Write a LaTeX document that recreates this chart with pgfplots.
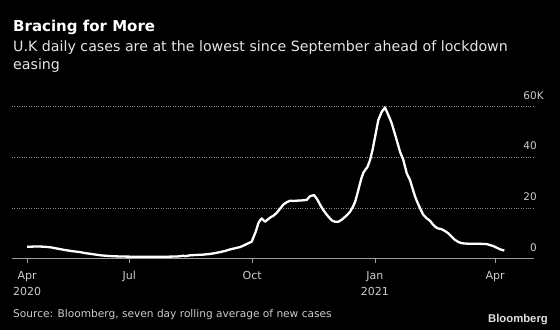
\documentclass[border=0pt]{standalone}
\usepackage{pgfplots}
\pgfplotsset{compat=1.18}
\usepackage{fontspec}
\setmainfont{DejaVu Sans}
\newfontfamily\logofont{Liberation Sans}
\definecolor{tickgray}{gray}{0.80}
\definecolor{subgray}{gray}{0.90}
\definecolor{axgray}{gray}{0.62}
\definecolor{gridgray}{gray}{0.55}
\begin{document}
\begin{tikzpicture}[x=1pt,y=1pt]
\fill[black] (0,0) rectangle (560,330);
\path[use as bounding box] (0,0) rectangle (560,330);
\node[anchor=base west, inner sep=0, text=white, font=\bfseries\fontsize{15}{18}\selectfont] at (13,298.3) {Bracing for More};
\node[anchor=base west, inner sep=0, text=subgray, font=\fontsize{14.2}{17}\selectfont] at (13,278.3) {U.K daily cases are at the lowest since September ahead of lockdown};
\node[anchor=base west, inner sep=0, text=subgray, font=\fontsize{14.2}{17}\selectfont] at (13,260.7) {easing};
\begin{axis}[
  at={(12pt,71.3pt)}, anchor=south west,
  scale only axis, width=521pt, height=152pt,
  xmin=3.1, xmax=393.4, ymin=0, ymax=60,
  axis x line=bottom, axis y line=right,
  axis line style={-},
  x axis line style={draw=axgray, line width=0.8pt},
  y axis line style={draw=none},
  xtick={14.5,91,183,275,365},
  xticklabels={Apr\\2020, Jul, Oct, Jan\\2021, Apr},
  ytick={0,20,40,60},
  yticklabels={0,20,40,60\rlap{K}},
  tick align=outside,
  major tick length=4pt,
  xtick style={draw=axgray, line width=0.8pt},
  ytick style={draw=none},
  xticklabel style={align=center, yshift=-5pt, text=tickgray, font=\fontsize{11}{16.7}\selectfont},
  yticklabel style={anchor=base east, inner sep=0pt, xshift=0pt, yshift=7.5pt, text=tickgray, font=\fontsize{10.5}{12}\selectfont},
  /pgf/number format/assume math mode=true,
  ymajorgrids,
  major grid style={draw=gridgray, line width=0.8pt, dash pattern=on 0.8pt off 1.6pt},
  clip=false,
]
\addplot[white, line width=2.3pt, line join=round] coordinates {
(14.4,4.7)(20,4.8)(24,4.8)(28,4.7)(32,4.5)(37,4.0)(43,3.4)(48,3.0)(54,2.6)(58,2.2)
(62,1.9)(66,1.6)(70,1.3)(75,1.1)(80,0.95)(86,0.85)(92,0.8)(100,0.75)(107,0.75)(114,0.75)
(120,0.8)(125,0.85)(129,0.95)(131,1.2)(133,1.0)(136,1.3)(140,1.45)(146,1.6)(151,1.85)(155,2.2)
(159,2.6)(163,3.1)(166,3.6)(170,4.1)(174,4.6)(177,5.3)(179,5.8)(181,6.3)(182.7,6.7)(184,8.5)
(185.2,10.0)(186.5,12.0)(187.6,14.0)(189,15.2)(190.2,15.9)(192.7,14.6)(194.5,15.4)(196.4,16.2)(199,17.0)(201.4,18.1)
(204,19.8)(206.4,21.4)(209,22.3)(211.4,22.9)(214,22.8)(216.4,22.9)(220,23.0)(223.9,23.2)(226.4,24.7)(229.4,25.1)
(231.8,23.4)(234,21.2)(236.3,19.2)(239,17.3)(241.3,15.9)(243,15.0)(245.1,14.6)(247.6,14.6)(249.5,15.2)(251.3,15.9)
(254,17.2)(256.3,18.5)(258.5,20.5)(260.2,22.5)(262,26.0)(263.8,29.7)(265,32.0)(266.3,33.9)(268,35.3)(269.3,36.1)
(271.3,38.9)(273,42.5)(275.1,48.1)(277.5,54.7)(280.1,58.0)(282.5,59.7)(284.3,57.6)(286,55.5)(287.6,53.4)(289.5,50.0)
(291.3,46.8)(293.8,42.2)(296.3,38.9)(298.8,33.7)(301.3,31.0)(303,28.0)(305.1,24.5)(307,22.0)(308.8,19.9)(311,17.5)
(313.8,15.9)(316.3,15.0)(318,13.8)(320.1,12.6)(322,12.0)(325.1,11.6)(327.5,10.9)(330,10.0)(332.5,8.7)(335,7.4)
(337.5,6.6)(340,6.1)(345,5.9)(351.2,5.9)(355,5.85)(358.2,5.8)(360,5.6)(361.5,5.3)(363.7,5.0)(366,4.4)
(368.7,3.7)(371.9,3.2)
};
\end{axis}
\node[anchor=base west, inner sep=0, text=tickgray, font=\fontsize{10.6}{13}\selectfont] at (13,12.7) {Source: Bloomberg, seven day rolling average of new cases};
\node[anchor=base east, inner sep=0, text=white!88!black, font=\logofont\bfseries\fontsize{11.3}{13}\selectfont] at (548,8) {Bloomberg};
\end{tikzpicture}
\end{document}
